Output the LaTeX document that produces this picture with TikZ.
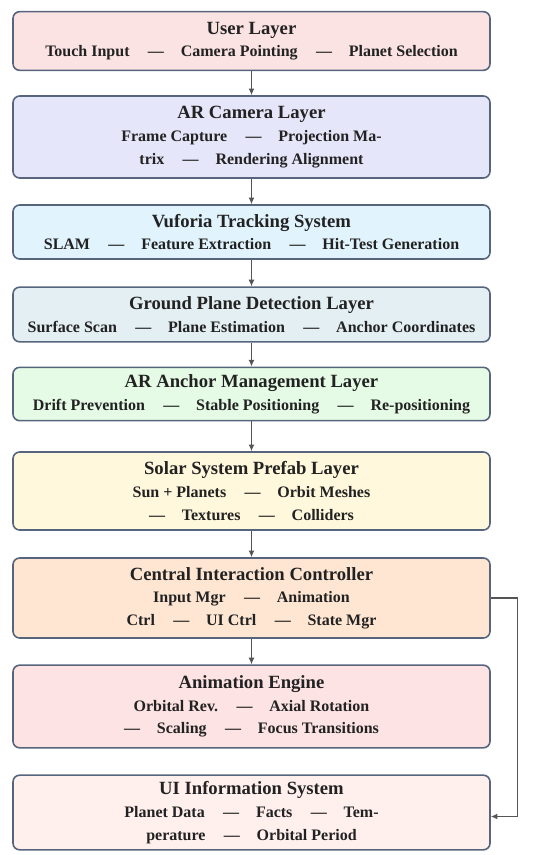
\documentclass[tikz,border=0pt]{standalone}
\usepackage{fontspec}
\setmainfont{Liberation Serif}
\usepackage{tikz}
\usetikzlibrary{arrows.meta,positioning}

\definecolor{edgecol}{HTML}{56657D}
\definecolor{arrowcol}{HTML}{555555}
\definecolor{textcol}{HTML}{222222}
\definecolor{userfill}{HTML}{FCE3E3}
\definecolor{camfill}{HTML}{E6E6FA}
\definecolor{vufill}{HTML}{E1F3FD}
\definecolor{gpfill}{HTML}{E3EFF3}
\definecolor{anchfill}{HTML}{E5FBE5}
\definecolor{solfill}{HTML}{FFF8DC}
\definecolor{ctrlfill}{HTML}{FFE6D3}
\definecolor{animfill}{HTML}{FDE3E3}
\definecolor{uifill}{HTML}{FFF0EE}

\newcommand{\dsep}{\hspace{1.15em}---\hspace{1.05em}}
\newcommand{\ttl}[1]{{\fontsize{14}{17}\selectfont #1}}

\begin{document}
\begin{tikzpicture}[x=0.75pt,y=-0.75pt,>=latex]
\tikzstyle{block}=[draw=edgecol, line width=1.2pt, rectangle, rounded corners=5pt, minimum width=357.75pt, align=center, text=textcol, font=\bfseries\fontsize{12}{17}\selectfont, inner sep=2pt]
\tikzstyle{flow}=[-{Latex[length=5pt,width=4.5pt]}, line width=0.9pt, draw=arrowcol]

\useasboundingbox (0,0) rectangle (550,855);

% user layer
\node[block, fill=userfill, minimum height=44pt] (user) at (251.5,41) {\ttl{User Layer}\\Touch Input\dsep Camera Pointing\dsep Planet Selection};

% AR camera
\node[block, fill=camfill, minimum height=61.5pt] (cam) at (251.5,137) {\ttl{AR Camera Layer}\\Frame Capture\dsep Projection Ma-\\trix\dsep Rendering Alignment};

% tracking
\node[block, fill=vufill, minimum height=40.5pt] (vuf) at (251.5,232) {\ttl{Vuforia Tracking System}\\SLAM\dsep Feature Extraction\dsep Hit-Test Generation};

% ground plane
\node[block, fill=gpfill, minimum height=41pt] (gp) at (251.5,314.5) {\ttl{Ground Plane Detection Layer}\\Surface Scan\dsep Plane Estimation\dsep Anchor Coordinates};

% anchors
\node[block, fill=anchfill, minimum height=40pt] (anch) at (251.5,394) {\ttl{AR Anchor Management Layer}\\Drift Prevention\dsep Stable Positioning\dsep Re-positioning};

% prefab
\node[block, fill=solfill, minimum height=58.5pt] (sol) at (251.5,491) {\ttl{Solar System Prefab Layer}\\Sun + Planets\dsep Orbit Meshes\\---\hspace{1.05em}Textures\dsep Colliders};

% controller
\node[block, fill=ctrlfill, minimum height=60pt] (ctrl) at (251.5,598) {\ttl{Central Interaction Controller}\\Input Mgr\dsep Animation\\Ctrl\dsep UI Ctrl\dsep State Mgr};

% animation
\node[block, fill=animfill, minimum height=62pt] (anim) at (251.5,706.5) {\ttl{Animation Engine}\\Orbital Rev.\dsep Axial Rotation\\---\hspace{1.05em}Scaling\dsep Focus Transitions};

% UI info
\node[block, fill=uifill, minimum height=56pt] (ui) at (251.5,812.5) {\ttl{UI Information System}\\Planet Data\dsep Facts\dsep Tem-\\perature\dsep Orbital Period};

% flow
\draw[flow] (user) -- (cam);
\draw[flow] (cam) -- (vuf);
\draw[flow] (vuf) -- (gp);
\draw[flow] (gp) -- (anch);
\draw[flow] (anch) -- (sol);
\draw[flow] (sol) -- (ctrl);
\draw[flow] (ctrl) -- (anim);
\draw[flow] (ctrl.east) -- ++(27,0) |- ([yshift=-3pt]ui.east);

\end{tikzpicture}
\end{document}
